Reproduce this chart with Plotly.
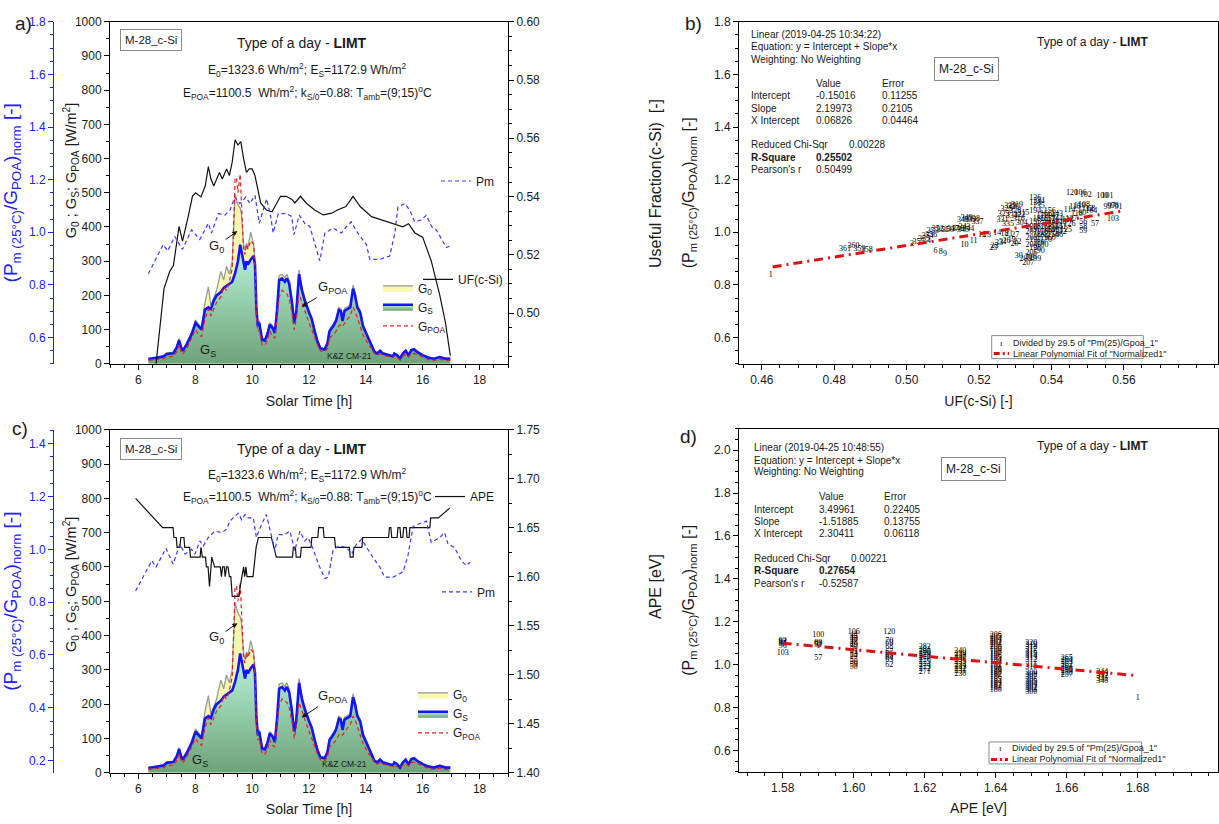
import plotly.graph_objects as go

W, H = 1219, 824
FONT = "Liberation Sans, Arial, sans-serif"
SERIF = "Liberation Serif, Times New Roman, serif"
BLUE = "#2020ff"
INK = "#1a1a1a"

# ---------------- irradiance (panels a, c) ----------------
irr_t = [6.35, 6.64, 6.88, 7.0, 7.23, 7.35, 7.43, 7.5, 7.56, 7.7, 7.87, 8.01, 8.11, 8.22, 8.34, 8.46, 8.55, 8.65,
         8.75, 8.9, 9.0, 9.1, 9.2, 9.3, 9.4, 9.45, 9.5, 9.58, 9.62, 9.7, 9.75, 9.8, 9.85, 9.95, 10.05, 10.1, 10.15,
         10.2, 10.25, 10.35, 10.45, 10.55, 10.62, 10.72, 10.8, 10.88, 10.95, 11.05, 11.15, 11.22, 11.3, 11.4, 11.48,
         11.55, 11.65, 11.75, 11.85, 12.0, 12.1, 12.2, 12.3, 12.4, 12.55, 12.65, 12.72, 12.85, 12.95, 13.05, 13.12,
         13.18, 13.25, 13.35, 13.45, 13.55, 13.62, 13.7, 13.8, 13.9, 14.0, 14.1, 14.2, 14.3, 14.4, 14.5, 14.6, 14.8,
         14.95, 15.0, 15.1, 15.2, 15.3, 15.4, 15.5, 15.6, 15.7, 15.8, 16.0, 16.2, 16.4, 16.6, 16.8, 16.97]
g0 = [16, 19, 24, 32, 34, 52, 74, 52, 42, 62, 92, 128, 116, 106, 178, 225, 170, 195, 215, 270, 245, 285, 262, 300,
      495, 480, 465, 455, 440, 350, 330, 352, 340, 385, 350, 300, 165, 116, 126, 75, 73, 96, 120, 110, 95, 168, 258,
      262, 252, 262, 245, 188, 126, 157, 275, 225, 193, 157, 136, 100, 69, 48, 45, 64, 100, 116, 131, 165, 162, 131,
      162, 167, 172, 230, 208, 172, 156, 115, 94, 74, 58, 38, 33, 41, 33, 27, 24, 32, 27, 17, 32, 41, 27, 43, 45, 37,
      27, 20, 17, 22, 17, 17]
gs = [14, 17, 21, 29, 31, 48, 69, 48, 38, 57, 86, 120, 110, 100, 158, 165, 160, 185, 200, 210, 222, 228, 232, 240,
      265, 285, 300, 348, 330, 300, 275, 300, 290, 305, 315, 290, 160, 110, 120, 70, 68, 90, 115, 105, 90, 160, 245,
      250, 240, 250, 235, 180, 120, 150, 262, 215, 185, 150, 130, 95, 65, 45, 42, 60, 95, 110, 125, 158, 155, 125,
      155, 160, 165, 220, 200, 165, 150, 110, 90, 70, 55, 35, 30, 38, 30, 25, 22, 30, 25, 15, 30, 38, 25, 40, 42, 35,
      25, 18, 15, 20, 15, 15]
gpoa = [10, 13, 15, 20, 22, 35, 55, 35, 28, 45, 75, 100, 85, 80, 130, 160, 140, 160, 180, 195, 225, 215, 240, 280,
        540, 545, 500, 555, 480, 330, 320, 350, 335, 360, 350, 290, 140, 95, 100, 55, 55, 70, 95, 80, 75, 130, 195,
        215, 210, 205, 190, 150, 100, 130, 205, 180, 160, 120, 100, 75, 55, 38, 35, 45, 75, 85, 95, 110, 115, 110,
        120, 130, 140, 165, 155, 135, 115, 85, 70, 55, 45, 30, 25, 30, 25, 20, 18, 22, 18, 12, 22, 28, 20, 30, 30, 28,
        20, 12, 10, 14, 10, 10]

# ---------------- useful fraction (panel a, right axis) ----------------
uf_t = [6.62, 6.90, 7.10, 7.23, 7.43, 7.55, 7.75, 7.90, 8.01, 8.20, 8.35, 8.46, 8.55, 8.65, 8.85, 8.95, 9.10, 9.20,
        9.30, 9.40, 9.50, 9.60, 9.70, 9.80, 9.90, 10.00, 10.10, 10.30, 10.50, 10.70, 10.80, 11.00, 11.20, 11.40,
        11.50, 11.70, 11.90, 12.20, 12.50, 12.80, 13.00, 13.30, 13.55, 13.80, 14.20, 14.60, 15.00, 15.30, 15.50,
        15.72, 16.00, 16.30, 16.60, 16.80, 16.97]
uf = [0.4826, 0.5084, 0.5143, 0.5163, 0.5298, 0.5247, 0.5331, 0.5401, 0.5413, 0.5399, 0.5436, 0.5503, 0.5460, 0.5436,
      0.5483, 0.5460, 0.5495, 0.5472, 0.5519, 0.5595, 0.5577, 0.5589, 0.5530, 0.5483, 0.5495, 0.5495, 0.5472, 0.5378,
      0.5354, 0.5348, 0.5366, 0.5401, 0.5401, 0.5390, 0.5378, 0.5401, 0.5378, 0.5354, 0.5337, 0.5343, 0.5354, 0.5366,
      0.5401, 0.5366, 0.5331, 0.5319, 0.5307, 0.5296, 0.5307, 0.5276, 0.5260, 0.5179, 0.5062, 0.4967, 0.4854]

# ---------------- normalised Pm (blue axes) ----------------
pm_a_t = [6.35, 6.87, 7.03, 7.28, 7.55, 7.87, 8.16, 8.46, 8.57, 8.81, 9.04, 9.22, 9.39, 9.57, 9.78, 9.92, 10.10, 10.25,
          10.39, 10.51, 10.65, 10.74, 10.92, 11.21, 11.39, 11.47, 11.66, 11.85, 12.03, 12.20, 12.38, 12.56, 12.85,
          13.14, 13.32, 13.49, 13.67, 14.02, 14.14, 14.49, 14.84, 15.02, 15.13, 15.37, 15.54, 15.72, 15.95, 16.13,
          16.31, 16.48, 16.66, 16.83, 16.95]
pm_a = [0.842, 0.953, 0.929, 0.984, 0.935, 1.009, 0.973, 1.034, 0.997, 1.071, 1.065, 1.084, 1.134, 1.109, 1.134, 1.109,
        1.140, 1.034, 1.084, 1.127, 1.060, 0.997, 1.071, 1.071, 1.060, 0.991, 1.065, 1.034, 1.022, 0.960, 0.891, 0.997,
        1.016, 0.997, 1.022, 1.040, 1.004, 0.953, 0.897, 0.897, 0.910, 0.997, 1.096, 1.109, 1.084, 1.040, 1.047, 1.065,
        1.022, 1.009, 0.973, 0.942, 0.947]
pm_c_t = [5.90, 6.47, 6.62, 6.97, 7.22, 7.46, 7.64, 7.87, 7.99, 8.16, 8.28, 8.46, 8.69, 8.93, 9.10, 9.22, 9.33, 9.51,
          9.63, 9.75, 9.86, 10.04, 10.15, 10.33, 10.50, 10.68, 10.80, 10.91, 11.15, 11.33, 11.50, 11.68, 11.85, 11.97,
          12.15, 12.33, 12.56, 12.68, 12.85, 13.09, 13.32, 13.50, 13.67, 13.85, 14.02, 14.25, 14.49, 14.66, 14.96,
          15.31, 15.48, 15.66, 15.95, 16.13, 16.30, 16.60, 16.77, 16.89, 17.12, 17.36, 17.53, 17.67]
pm_c = [0.842, 0.957, 0.933, 1.004, 0.944, 1.020, 0.982, 1.000, 0.982, 1.032, 1.013, 1.045, 1.069, 1.063, 1.076, 1.107,
        1.119, 1.137, 1.112, 1.132, 1.119, 1.119, 1.045, 1.094, 1.132, 1.045, 0.995, 1.056, 1.056, 1.069, 0.995, 1.069,
        1.032, 1.045, 1.000, 0.944, 0.889, 0.895, 1.000, 1.013, 1.007, 0.982, 1.020, 1.038, 1.007, 0.969, 0.933, 0.895,
        0.895, 0.915, 0.976, 1.087, 1.100, 1.107, 1.026, 1.045, 1.063, 1.020, 1.007, 0.957, 0.939, 0.951]

# ---------------- APE (panel c, right axis) ----------------
ape_t = [5.90, 6.85, 7.22, 7.25, 7.33, 7.36, 7.46, 7.49, 7.60, 7.63, 7.80, 7.83, 8.17, 8.20, 8.25, 8.36, 8.39, 8.45,
         8.50, 8.58, 8.68, 8.88, 8.92, 8.96, 9.02, 9.05, 9.10, 9.15, 9.20, 9.25, 9.30, 9.54, 9.58, 9.63, 9.70, 9.74,
         9.78, 9.82, 10.03, 10.14, 10.22, 10.68, 10.85, 11.42, 11.45, 11.52, 11.55, 11.70, 11.73, 12.07, 12.10, 12.31,
         12.34, 12.50, 12.53, 12.90, 12.93, 13.42, 13.45, 13.55, 13.58, 13.86, 13.89, 14.80, 14.83, 14.88, 14.91,
         15.10, 15.13, 15.20, 15.23, 15.30, 15.33, 15.42, 15.45, 15.52, 15.55, 16.25, 16.28, 16.55, 16.95]
ape = [1.68, 1.65, 1.65, 1.64, 1.64, 1.63, 1.63, 1.64, 1.64, 1.63, 1.63, 1.62, 1.62, 1.63, 1.62, 1.62, 1.61, 1.61,
       1.59, 1.62, 1.61, 1.61, 1.60, 1.61, 1.61, 1.60, 1.61, 1.61, 1.60, 1.60, 1.58, 1.58, 1.59, 1.60, 1.61, 1.60,
       1.61, 1.60, 1.60, 1.63, 1.64, 1.64, 1.62, 1.62, 1.63, 1.63, 1.62, 1.62, 1.63, 1.63, 1.64, 1.64,
       1.65, 1.65, 1.64, 1.64, 1.63, 1.63, 1.62, 1.62, 1.63, 1.63, 1.64, 1.64, 1.65, 1.65, 1.64,
       1.64, 1.65, 1.65, 1.64, 1.64, 1.65, 1.65, 1.64, 1.64, 1.65, 1.65, 1.66, 1.66, 1.67]

# ---------------- panel b scatter: UF vs normalised Pm ----------------
b_uf = [0.4625, 0.4830, 0.4853, 0.4870, 0.4890,
        0.5015, 0.5033, 0.5048, 0.5058, 0.5062, 0.5080, 0.5094, 0.5106,
        0.5068, 0.5072, 0.5086, 0.5100, 0.5114, 0.5128, 0.5142, 0.5156, 0.5160, 0.5170,
        0.5156, 0.5166, 0.5176, 0.5186, 0.5196,
        0.5160, 0.5185, 0.5208, 0.5222, 0.5250,
        0.5240, 0.5243, 0.5255, 0.5266, 0.5276, 0.5290, 0.5298, 0.5306, 0.5270, 0.5283, 0.5300,
        0.5265, 0.5268, 0.5276, 0.5286, 0.5296, 0.5305, 0.5300, 0.5312, 0.5290, 0.5280, 0.5310, 0.5322, 0.5318,
        0.5310, 0.5336, 0.5328, 0.5342,
        0.5345, 0.5345, 0.5345, 0.5345, 0.5345,
        0.5355, 0.5355, 0.5355, 0.5355, 0.5355, 0.5355, 0.5355, 0.5355,
        0.5365, 0.5365, 0.5365, 0.5365, 0.5365, 0.5365, 0.5365,
        0.5375, 0.5375, 0.5375, 0.5375, 0.5375,
        0.5385, 0.5385, 0.5385, 0.5385, 0.5385,
        0.5395, 0.5395, 0.5395, 0.5395, 0.5395,
        0.5405, 0.5405, 0.5405, 0.5405,
        0.5415, 0.5415, 0.5415, 0.5415,
        0.5425, 0.5425, 0.5425,
        0.5440, 0.5450, 0.5455, 0.5445,
        0.5457, 0.5480, 0.5495, 0.5540, 0.5555,
        0.5450, 0.5465, 0.5478, 0.5490, 0.5500, 0.5510, 0.5470, 0.5485,
        0.5488, 0.5488, 0.5488, 0.5520, 0.5570, 0.5510,
        0.5555, 0.5565, 0.5575, 0.5585]
b_norm = [0.838, 0.936, 0.946, 0.938, 0.933,
          0.955, 0.963, 0.975, 0.985, 0.966, 0.928, 0.924, 0.918,
          0.990, 1.004, 1.012, 1.010, 1.008, 1.011, 1.013, 1.008, 1.021, 1.011,
          1.048, 1.056, 1.045, 1.050, 1.040,
          0.950, 0.968, 0.990, 0.988, 0.998,
          0.940, 0.948, 0.958, 0.962, 0.965, 0.970, 0.956, 0.962, 0.995, 0.992, 0.989,
          1.045, 1.070, 1.090, 1.100, 1.095, 1.104, 1.080, 1.065, 1.060, 1.030, 1.050, 1.075, 1.035,
          0.910, 0.884, 0.899, 0.905,
          0.92, 0.95, 0.98, 1.00, 1.02,
          0.90, 0.94, 0.97, 1.01, 1.04, 1.08, 1.11, 1.13,
          0.93, 0.96, 0.99, 1.02, 1.05, 1.10, 1.12,
          0.95, 0.98, 1.00, 1.03, 1.06,
          0.97, 1.00, 1.02, 1.05, 1.07,
          0.98, 1.01, 1.03, 1.05, 1.08,
          0.99, 1.01, 1.04, 1.06,
          0.99, 1.02, 1.05, 1.07,
          1.00, 1.02, 1.04,
          1.010, 1.030, 1.050, 1.045,
          1.150, 1.148, 1.140, 1.137, 1.137,
          1.085, 1.095, 1.100, 1.105, 1.090, 1.080, 1.070, 1.075,
          1.040, 1.020, 1.005, 1.032, 1.050, 1.087,
          1.095, 1.098, 1.100, 1.097]
b_lbl = ["1", "361", "360", "359", "358",
         "2", "357", "355", "354", "4", "6", "8", "9",
         "356", "353", "352", "351", "350", "347", "346", "345", "343", "344",
         "340", "349", "339", "338", "337",
         "10", "11", "12", "13", "14",
         "25", "23", "33", "31", "26", "19", "20", "22", "18", "21", "27",
         "331", "323", "325", "329", "320", "319", "328", "322", "334", "335", "316", "315", "304",
         "30", "207", "209", "206",
         "205", "204", "203", "201", "200",
         "199", "198", "197", "196", "195", "194", "138", "136",
         "190", "189", "188", "187", "186", "135", "134",
         "180", "179", "178", "177", "176",
         "170", "169", "168", "167", "166",
         "160", "159", "158", "157", "156",
         "150", "149", "148", "147",
         "146", "145", "144", "143",
         "142", "141", "140",
         "125", "126", "127", "128",
         "120", "106", "102", "100", "101",
         "114", "116", "110", "108", "112", "104", "118", "60",
         "56", "58", "59", "57", "103", "68",
         "99", "97", "98", "91"]

# ---------------- panel d scatter: APE vs normalised Pm ----------------
d_ape = [1.58, 1.58, 1.58, 1.58, 1.58, 1.58,
         1.59, 1.59, 1.59, 1.59, 1.59,
         1.60, 1.60, 1.60, 1.60, 1.60, 1.60, 1.60, 1.60, 1.60, 1.60, 1.60, 1.60, 1.60, 1.60, 1.60, 1.60,
         1.61, 1.61, 1.61, 1.61, 1.61, 1.61, 1.61, 1.61, 1.61, 1.61,
         1.62, 1.62, 1.62, 1.62, 1.62, 1.62, 1.62, 1.62, 1.62, 1.62, 1.62, 1.62,
         1.63, 1.63, 1.63, 1.63, 1.63, 1.63, 1.63, 1.63, 1.63, 1.63, 1.63,
         1.64, 1.64, 1.64, 1.64, 1.64, 1.64, 1.64, 1.64, 1.64, 1.64, 1.64, 1.64, 1.64, 1.64,
         1.64, 1.64, 1.64, 1.64, 1.64, 1.64, 1.64, 1.64, 1.64, 1.64, 1.64, 1.64, 1.64,
         1.65, 1.65, 1.65, 1.65, 1.65, 1.65, 1.65, 1.65, 1.65, 1.65,
         1.65, 1.65, 1.65, 1.65, 1.65, 1.65, 1.65, 1.65, 1.65, 1.65, 1.65,
         1.66, 1.66, 1.66, 1.66, 1.66, 1.66, 1.66, 1.66, 1.66,
         1.67, 1.67, 1.67, 1.67, 1.67,
         1.68]
d_norm = [1.088, 1.095, 1.100, 1.105, 1.110, 1.052,
          1.136, 1.090, 1.095, 1.100, 1.030,
          0.99, 1.00, 1.01, 1.02, 1.04, 1.05, 1.06, 1.07, 1.08, 1.09, 1.10, 1.11, 1.12, 1.13, 1.14, 1.15,
          1.15, 1.00, 1.02, 1.03, 1.04, 1.05, 1.06, 1.08, 1.10, 1.11,
          0.965, 0.98, 0.99, 1.00, 1.01, 1.02, 1.03, 1.04, 1.05, 1.06, 1.07, 1.08,
          0.955, 0.97, 0.98, 0.99, 1.00, 1.01, 1.02, 1.03, 1.04, 1.05, 1.065,
          0.88, 0.89, 0.90, 0.91, 0.92, 0.93, 0.94, 0.95, 0.96, 0.97, 0.98, 0.99, 1.00, 1.01,
          1.02, 1.03, 1.04, 1.05, 1.06, 1.07, 1.08, 1.09, 1.10, 1.11, 1.12, 1.13, 1.14,
          0.87, 0.88, 0.89, 0.90, 0.91, 0.92, 0.93, 0.94, 0.95, 0.96,
          0.99, 1.00, 1.02, 1.03, 1.04, 1.05, 1.06, 1.07, 1.08, 1.09, 1.10,
          0.95, 0.96, 0.97, 0.98, 0.99, 1.00, 1.01, 1.02, 1.03,
          0.925, 0.935, 0.945, 0.955, 0.965,
          0.842]
d_lbl = ["96", "95", "94", "93", "92", "103",
         "100", "91", "90", "89", "57",
         "58", "59", "56", "55", "54", "53", "52", "51", "50", "49", "48", "47", "46", "45", "44", "106",
         "120", "62", "63", "64", "65", "66", "67", "68", "69", "70",
         "271", "272", "273", "274", "275", "276", "277", "278", "279", "280", "281", "282",
         "230", "231", "232", "233", "234", "235", "236", "237", "238", "239", "240",
         "180", "181", "182", "183", "184", "185", "186", "187", "188", "189", "190", "191", "192", "193",
         "194", "195", "196", "197", "198", "199", "200", "201", "202", "203", "204", "205", "206",
         "300", "301", "302", "303", "304", "305", "306", "307", "308", "309",
         "310", "311", "312", "313", "314", "315", "316", "317", "318", "319", "320",
         "257", "258", "259", "260", "261", "262", "263", "264", "265",
         "340", "341", "342", "343", "344",
         "1"]

# linear fits reported in the panels
fit_b_x = [0.463, 0.560]
fit_b_intercept, fit_b_slope = -0.15016, 2.19973
fit_d_x = [1.58, 1.68]
fit_d_intercept, fit_d_slope = 3.49961, -1.51885
fit_b_y = [fit_b_intercept + fit_b_slope * v for v in fit_b_x]
fit_d_y = [fit_d_intercept + fit_d_slope * v for v in fit_d_x]

b_ticks = [0.46, 0.48, 0.50, 0.52, 0.54, 0.56]
d_ticks = [1.58, 1.60, 1.62, 1.64, 1.66, 1.68]


# ---------------- helpers ----------------
def X(p):
    return p / W


def Y(p):
    return 1 - p / H


def axis(color="black", minor_dtick=None, **kw):
    d = dict(showgrid=False, zeroline=False, showline=True, linecolor=color, linewidth=1,
             ticks="outside", ticklen=5, tickwidth=1, tickcolor=color,
             tickfont=dict(family=FONT, size=12, color=(INK if color == "black" else color)))
    if minor_dtick is not None:
        d["minor"] = dict(ticks="outside", ticklen=3, tickwidth=1, tickcolor=color, dtick=minor_dtick,
                          showgrid=False)
    d.update(kw)
    return d


def ttl(text, size=14, color=INK, standoff=None):
    d = dict(text=text, font=dict(family=FONT, size=size, color=color))
    if standoff is not None:
        d["standoff"] = standoff
    return d


def note(text, x, y, size=12, xanchor="center", color=INK, family=FONT, **kw):
    return dict(text=text, x=X(x), y=Y(y), xref="paper", yref="paper", showarrow=False,
                xanchor=xanchor, yanchor="middle", font=dict(family=family, size=size, color=color), **kw)


fig = go.Figure()

# ---------------- panel a & c traces ----------------
for xa, ya, leg in (("x", "y", "legend"), ("x3", "y5", "legend5")):
    fig.add_trace(go.Scatter(x=irr_t, y=g0, mode="lines", name="G<sub>0</sub>", xaxis=xa, yaxis=ya,
                             line=dict(color="#9a9a9a", width=1.3), fill="tozeroy", fillcolor="#fbf8ae",
                             legend=leg))
    fig.add_trace(go.Scatter(x=irr_t, y=gs, mode="lines", name="G<sub>S</sub>", xaxis=xa, yaxis=ya,
                             line=dict(color="#1414ff", width=2.6), fill="tozeroy",
                             fillgradient=dict(type="vertical", start=0, stop=360,
                                               colorscale=[[0, "#6a9f74"], [1, "#b9f6dc"]]),
                             legend=leg))
    fig.add_trace(go.Scatter(x=irr_t, y=gpoa, mode="lines", name="G<sub>POA</sub>", xaxis=xa, yaxis=ya,
                             line=dict(color="#e82020", width=1.2, dash="4px,3px"), legend=leg))

# Pm (blue dashed) and UF / APE (black)
fig.add_trace(go.Scatter(x=pm_a_t, y=pm_a, mode="lines", name="Pm", xaxis="x", yaxis="y3",
                         line=dict(color="#3a3aff", width=1.2, dash="4px,3px"), legend="legend2"))
fig.add_trace(go.Scatter(x=uf_t, y=uf, mode="lines", name="UF(c-Si)", xaxis="x", yaxis="y2",
                         line=dict(color="#111111", width=1.2), legend="legend3"))
fig.add_trace(go.Scatter(x=ape_t, y=ape, mode="lines", name="APE", xaxis="x3", yaxis="y6",
                         line=dict(color="#111111", width=1.2), legend="legend6"))
fig.add_trace(go.Scatter(x=pm_c_t, y=pm_c, mode="lines", name="Pm", xaxis="x3", yaxis="y7",
                         line=dict(color="#3a3aff", width=1.2, dash="4px,3px"), legend="legend7"))

# ---------------- panel b & d traces ----------------
fig.add_trace(go.Scatter(x=b_uf, y=b_norm, text=b_lbl, mode="text", xaxis="x2", yaxis="y4", showlegend=False,
                         textfont=dict(family=SERIF, size=8, color="#000000")))
fig.add_trace(go.Scatter(x=fit_b_x, y=fit_b_y, mode="lines", xaxis="x2", yaxis="y4", showlegend=False,
                         line=dict(color="#dd1111", width=3, dash="9px,5px,2px,5px")))
fig.add_trace(go.Scatter(x=d_ape, y=d_norm, text=d_lbl, mode="text", xaxis="x4", yaxis="y8", showlegend=False,
                         textfont=dict(family=SERIF, size=8, color="#000000")))
fig.add_trace(go.Scatter(x=fit_d_x, y=fit_d_y, mode="lines", xaxis="x4", yaxis="y8", showlegend=False,
                         line=dict(color="#dd1111", width=3, dash="9px,5px,2px,5px")))

# ---------------- axes ----------------
dom_ax = [X(110), X(508)]
dom_bx = [X(739), X(1218)]
dom_ay = [Y(363), Y(15)]
dom_cy = [Y(779), Y(430)]
dom_dy = [Y(778), Y(429)]

g_title = "G<sub>0</sub> ; G<sub>S</sub>; G<sub>POA</sub> [W/m<sup>2</sup>]"
pn_title = "(P<sub>m (25°C)</sub>/G<sub>POA</sub>)<sub>norm</sub> [-]"

layout_axes = dict(
    xaxis=axis(domain=dom_ax, range=[5, 19], dtick=2, tick0=0, anchor="y", minor_dtick=0.5, mirror=True,
               title=ttl("Solar Time [h]", standoff=9)),
    yaxis=axis(domain=dom_ay, range=[0, 1000], dtick=100, anchor="x", minor_dtick=50),
    yaxis2=axis(overlaying="y", side="right", anchor="x", range=[0.4826, 0.60], dtick=0.02, tick0=0,
                tickformat=".2f", minor_dtick=0.005),
    yaxis3=axis(color=BLUE, overlaying="y", side="left", anchor="free", position=X(53), range=[0.5, 1.8],
                dtick=0.2, tick0=0, tickformat=".1f", minor_dtick=0.05, title=ttl(pn_title, 19, BLUE)),
    xaxis2=axis(domain=dom_bx, range=[0.4537, 0.586], tickvals=b_ticks, tickformat=".2f", anchor="y4",
                minor_dtick=0.005, mirror=True, title=ttl("UF(c-Si) [-]", standoff=9)),
    yaxis4=axis(domain=dom_ay, range=[0.5, 1.8], dtick=0.2, tick0=0, tickformat=".1f", anchor="x2",
                minor_dtick=0.05, mirror=True, title=ttl(pn_title, 16)),
    xaxis3=axis(domain=dom_ax, range=[5, 19], dtick=2, tick0=0, anchor="y5", minor_dtick=0.5, mirror=True,
                title=ttl("Solar Time [h]", standoff=9)),
    yaxis5=axis(domain=dom_cy, range=[0, 1000], dtick=100, anchor="x3", minor_dtick=50),
    yaxis6=axis(overlaying="y5", side="right", anchor="x3", range=[1.40, 1.75], dtick=0.05, tick0=0,
                tickformat=".2f", minor_dtick=0.025),
    yaxis7=axis(color=BLUE, overlaying="y5", side="left", anchor="free", position=X(53), range=[0.154, 1.453],
                dtick=0.2, tick0=0, tickformat=".1f", minor_dtick=0.05, title=ttl(pn_title, 19, BLUE)),
    xaxis4=axis(domain=dom_bx, range=[1.5677, 1.7026], tickvals=d_ticks, tickformat=".2f", anchor="y8",
                minor_dtick=0.005, mirror=True, title=ttl("APE [eV]", standoff=9)),
    yaxis8=axis(domain=dom_dy, range=[0.5, 2.1], dtick=0.2, tick0=0, tickformat=".1f", anchor="x4",
                minor_dtick=0.05, mirror=True, title=ttl(pn_title, 16)),
)


def leg(x, y, size=12):
    return dict(x=X(x), y=Y(y), xanchor="left", yanchor="middle", bgcolor="rgba(0,0,0,0)", borderwidth=0,
                font=dict(family=FONT, size=size, color=INK), itemwidth=30, tracegroupgap=0)


# ---------------- text annotations ----------------
ann = []
for (y0, yeq1, yeq2, boxy, gty) in ((37, 64, 87, 33.5, 167), (450, 476, 498, 449.5, 588)):
    ann.append(note("Type of a day - <b>LIMT</b>", 302, y0, 14))
    ann.append(note("E<sub>0</sub>=1323.6 Wh/m<sup>2</sup>; E<sub>S</sub>=1172.9 Wh/m<sup>2</sup>", 307, yeq1, 12))
    ann.append(note("E<sub>POA</sub>=1100.5  Wh/m<sup>2</sup>; k<sub>S/0</sub>=0.88: "
                    "T<sub>amb</sub>=(9;15)<sup>o</sup>C", 307, yeq2, 12))
    ann.append(note("M-28_c-Si", 150.5, boxy, 11.5, bordercolor="#8a8a8a", borderwidth=1, borderpad=4,
                    bgcolor="white"))
    # left irradiance-axis title (sits between the blue axis and the G tick labels)
    ann.append(note(g_title, 71, gty, 14.5, textangle=-90))

# arrows and area labels on panels a and c
for xr, yr, g0y, g0tip, gpy, gptip, gsx, gsy, kzx, kzy in (("x", "y", 344, 388, 222, 167, 8.45, 38, 13.44, 22),
                                                           ("x3", "y5", 393, 436, 222, 161, 8.17, 37, 13.26, 26)):
    ann.append(dict(x=9.48, y=g0tip, ax=8.75, ay=g0y, xref=xr, yref=yr, axref=xr, ayref=yr,
                    text="G<sub>0</sub>", showarrow=True, arrowhead=2, arrowsize=1, arrowwidth=1,
                    arrowcolor="#111", font=dict(family=FONT, size=13, color=INK)))
    ann.append(dict(x=11.74, y=gptip, ax=12.85, ay=gpy, xref=xr, yref=yr, axref=xr, ayref=yr,
                    text="G<sub>POA</sub>", showarrow=True, arrowhead=2, arrowsize=1, arrowwidth=1,
                    arrowcolor="#111", font=dict(family=FONT, size=13, color=INK)))
    ann.append(dict(x=gsx, y=gsy, xref=xr, yref=yr, text="G<sub>S</sub>",
                    showarrow=False, font=dict(family=FONT, size=13, color=INK)))
    ann.append(dict(x=kzx, y=kzy, xref=xr, yref=yr, text="K&Z CM-21", showarrow=False,
                    font=dict(family=FONT, size=8.5, color=INK)))

# right-axis titles that sit far out
ann.append(note("Useful Fraction(c-Si)  [-]", 656, 180, 16, textangle=-90))
ann.append(note("APE [eV]", 656, 590, 16, textangle=-90))

# panel letters
ann.append(note("a)", 13, 17, 19, xanchor="left"))
ann.append(note("b)", 683, 17, 19, xanchor="left"))
ann.append(note("c)", 10, 429, 19, xanchor="left"))
ann.append(note("d)", 678, 437, 19, xanchor="left"))

# fit reports (b and d)
fit_texts = (
    (749, (28, 40, 53), 78, (90, 103, 115), (140, 153, 165), 814, 880, 847,
     "Linear (2019-04-25 10:34:22)", ("-0.15016", "2.19973", "0.06826"), ("0.11255", "0.2105", "0.04464"),
     "0.00228", "0.25502", "0.50499", 63.5, 966.5, 36),
    (751.5, (448, 461, 473), 498, (511, 523, 536), (561, 573, 586), 817, 882, 849,
     "Linear (2019-04-25 10:48:55)", ("3.49961", "-1.51885", "2.30411"), ("0.22405", "0.13755", "0.06118"),
     "0.00221", "0.27654", "-0.52587", 470, 973.5, 447),
)
for (lx, hdr_y, vy, row_y, st_y, vx, ex, chix, head, vals, errs, chi, r2, pr, boxy, boxx, tty) in fit_texts:
    fs = 10
    ann.append(note(head, lx, hdr_y[0], fs, xanchor="left"))
    ann.append(note("Equation: y = Intercept + Slope*x", lx, hdr_y[1], fs, xanchor="left"))
    ann.append(note("Weighting: No Weighting", lx, hdr_y[2], fs, xanchor="left"))
    ann.append(note("Value", vx, vy, fs, xanchor="left"))
    ann.append(note("Error", ex, vy, fs, xanchor="left"))
    for name, yy, v, e in zip(("Intercept", "Slope", "X Intercept"), row_y, vals, errs):
        ann.append(note(name, lx, yy, fs, xanchor="left"))
        ann.append(note(v, vx, yy, fs, xanchor="left"))
        ann.append(note(e, ex, yy, fs, xanchor="left"))
    ann.append(note("Reduced Chi-Sqr", lx, st_y[0], fs, xanchor="left"))
    ann.append(note(chi, chix, st_y[0], fs, xanchor="left"))
    ann.append(note("<b>R-Square</b>", lx, st_y[1], fs, xanchor="left"))
    ann.append(note("<b>" + r2 + "</b>", vx, st_y[1], fs, xanchor="left"))
    ann.append(note("Pearson's r", lx, st_y[2], fs, xanchor="left"))
    ann.append(note(pr, vx, st_y[2], fs, xanchor="left"))
    ann.append(note("Type of a day - <b>LIMT</b>", 1150, tty, 12, xanchor="right"))
    ann.append(note("M-28_c-Si", boxx, boxy, 12, bordercolor="#8a8a8a", borderwidth=1, borderpad=4,
                    bgcolor="white"))

# compact legend boxes for b and d (Origin style)
shapes = []
for (x0, x1, y0, y1, ty1, ty2, mx, tx) in ((991.7, 1143.3, 334.3, 357.7, 341.5, 352.5, 1001.5, 1011),
                                          (989, 1141.7, 747.7, 770, 754.3, 765.5, 1000, 1010)):
    shapes.append(dict(type="rect", xref="paper", yref="paper", x0=X(x0), x1=X(x1), y0=Y(y1), y1=Y(y0),
                       line=dict(color="#8a8a8a", width=1), fillcolor="white", layer="above"))
    shapes.append(dict(type="line", xref="paper", yref="paper", x0=X(x0 + 2), x1=X(tx - 2), y0=Y(ty2), y1=Y(ty2),
                       line=dict(color="#dd1111", width=3, dash="6px,3px,2px,3px"), layer="above"))
    ann.append(note("ı", mx, ty1, 9, family=SERIF))
    ann.append(note('Divided by 29.5 of "Pm(25)/Gpoa_1"', tx, ty1, 9, xanchor="left"))
    ann.append(note('Linear Polynomial Fit of "Normalized1"', tx, ty2, 9, xanchor="left"))

fig.update_layout(
    width=W, height=H, margin=dict(l=0, r=0, t=0, b=0),
    paper_bgcolor="white", plot_bgcolor="white",
    font=dict(family=FONT, size=12, color=INK),
    legend=leg(378, 305), legend2=leg(436, 177), legend3=leg(418, 277),
    legend5=leg(413, 719), legend6=leg(430, 498), legend7=leg(437, 595),
    annotations=ann, shapes=shapes,
    **layout_axes,
)

fig.write_html("out.html", config={"displayModeBar": False},
               post_script="document.body.style.margin='0';document.body.style.overflow='hidden';")
